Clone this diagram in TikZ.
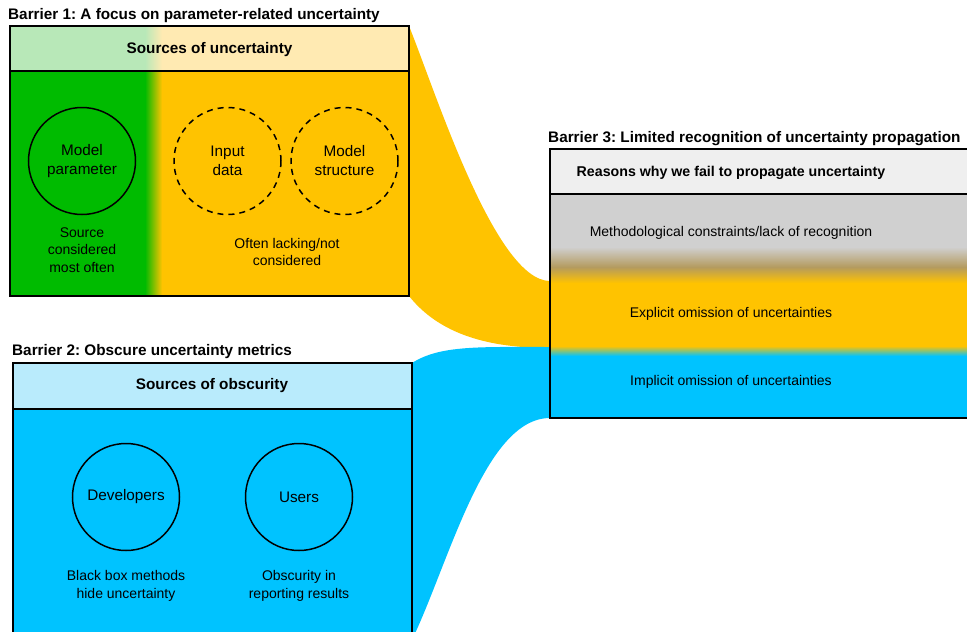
\documentclass[tikz,border=0pt]{standalone}
\usepackage{fontspec}
\setmainfont{Liberation Sans}
\frenchspacing
\definecolor{cgreen}{RGB}{0,187,0}
\definecolor{corange}{RGB}{255,195,0}
\definecolor{cblue}{RGB}{0,195,255}
\definecolor{lgreen}{RGB}{184,232,184}
\definecolor{lorange}{RGB}{255,234,178}
\definecolor{lblue}{RGB}{185,235,252}
\definecolor{hgray}{RGB}{239,239,239}
\definecolor{rgray}{RGB}{208,208,208}
\definecolor{cbrown}{RGB}{180,155,95}
\begin{document}
\begin{tikzpicture}[x=1pt,y=-1pt,
 box/.style={draw=black,line width=1.5pt},
 ttl/.style={font=\fontsize{15.3}{17}\selectfont\bfseries,anchor=west,inner sep=0},
 hdr/.style={font=\fontsize{15.3}{17}\selectfont\bfseries,inner sep=0},
 txt/.style={font=\fontsize{14}{17.5}\selectfont,align=center,inner sep=0},
 src/.style={circle,draw=black,line width=1.5pt,minimum size=107pt,inner sep=0,font=\fontsize{15.3}{19}\selectfont,align=center},
 dsrc/.style={src,dash pattern=on 6pt off 5pt}]
\useasboundingbox (0,0) rectangle (967,632);
\clip (0,0) rectangle (967,632);
% named corners
\coordinate (b1tr) at (409,26);
\coordinate (b1br) at (409,296);
\coordinate (b2tr) at (412,363);
\coordinate (b2br) at (412,640);
\coordinate (b3a) at (550,281);
\coordinate (b3b) at (550,348);
\coordinate (b3c) at (550,347);
\coordinate (b3d) at (550,418);
% flows
\fill[corange] (b1tr) .. controls (435,90) and (495,281) .. (b3a) -- (b3b) .. controls (490,348) and (440,335) .. (b1br) -- cycle;
\fill[cblue] (b2tr) .. controls (440,345) and (480,347) .. (b3c) -- (b3d) .. controls (485,418) and (450,560) .. (b2br) -- cycle;
% box 1
\fill[cgreen] (10,71) rectangle (145,296);
\shade[left color=cgreen,right color=corange] (145,71) rectangle (162,296);
\fill[corange] (162,71) rectangle (409,296);
\fill[lgreen] (10,26) rectangle (145,71);
\shade[left color=lgreen,right color=lorange] (145,26) rectangle (162,71);
\fill[lorange] (162,26) rectangle (409,71);
\draw[box] (10,26) rectangle (409,296);
\draw[box] (10,71) -- (409,71);
% box 2
\fill[lblue] (13,363) rectangle (412,409);
\fill[cblue] (13,409) rectangle (412,645);
\draw[box] (13,363) rectangle (412,645);
\draw[box] (13,409) -- (412,409);
% box 3
\fill[hgray] (550,149) rectangle (975,194);
\fill[rgray] (550,194) rectangle (975,247);
\shade[top color=rgray,bottom color=cbrown] (550,247) rectangle (975,267);
\shade[top color=cbrown,bottom color=corange] (550,267) rectangle (975,283);
\fill[corange] (550,283) rectangle (975,346);
\shade[top color=corange,bottom color=cblue] (550,346) rectangle (975,356);
\fill[cblue] (550,356) rectangle (975,418);
\draw[box] (550,149) rectangle (975,418);
\draw[box] (550,194) -- (975,194);
% titles
\node[ttl] (t1) at (8,16) {Barrier 1: A focus on parameter-related uncertainty};
\node[ttl] (t2) at (12,352) {Barrier 2: Obscure uncertainty metrics};
\node[ttl] (t3) at (548,139) {Barrier 3: Limited recognition of uncertainty propagation};
% headers
\node[hdr] (h1) at (209.5,50) {Sources of uncertainty};
\node[hdr] (h2) at (212,386) {Sources of obscurity};
\node[hdr,font=\fontsize{14.2}{17}\selectfont\bfseries] (h3) at (731,173) {Reasons why we fail to propagate uncertainty};
% box 1 content
\node[src] (mp) at (82,161) {Model\\parameter};
\node[dsrc] (id) at (227.5,161) {Input\\data};
\node[dsrc] (ms) at (344.5,161) {Model\\structure};
\node[txt] (l1) at (82,250) {Source\\considered\\most often};
\node[txt] (l2) at (287,252) {Often lacking/not\\considered};
% box 2 content
\node[src] (dev) at (126,497) {Developers};
\node[src] (usr) at (299,497) {Users};
\node[txt] (l3) at (126,586) {Black box methods\\hide uncertainty};
\node[txt] (l4) at (299,586) {Obscurity in\\reporting results};
% box 3 content
\node[txt] (r1) at (731,233) {Methodological constraints/lack of recognition};
\node[txt] (r2) at (731,314) {Explicit omission of uncertainties};
\node[txt] (r3) at (731,382) {Implicit omission of uncertainties};
\end{tikzpicture}
\end{document}
